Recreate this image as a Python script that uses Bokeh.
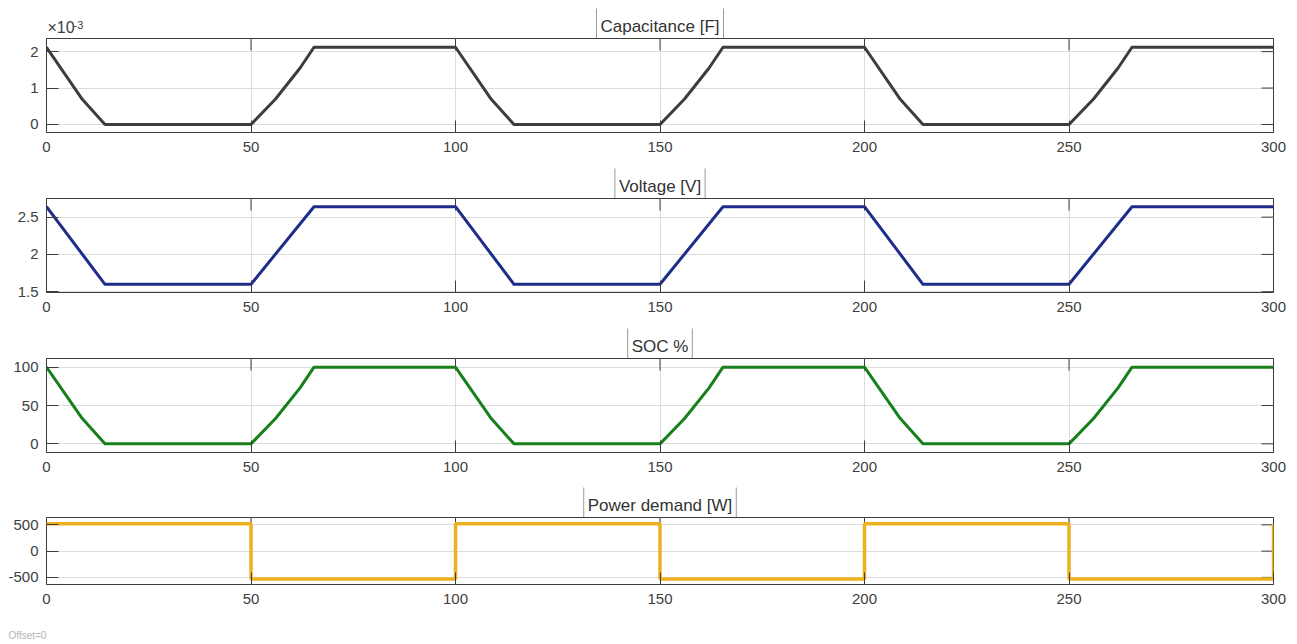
import math
from bokeh.plotting import figure
from bokeh.models import FixedTicker, Range1d, Spacer, NumeralTickFormatter
from bokeh.core.properties import value
from bokeh.layouts import column
from bokeh.embed import file_html
from bokeh.resources import INLINE

# ---------------- data ----------------
time_cap = [0, 8.75, 14.3, 50, 56, 62, 65.4, 100, 108.75, 114.3, 150, 156, 162, 165.4,
            200, 208.75, 214.3, 250, 256, 262, 265.4, 300]
capacitance_e3 = [2.12, 0.69, 0, 0, 0.7, 1.55, 2.12, 2.12, 0.69, 0, 0, 0.7, 1.55, 2.12,
                  2.12, 0.69, 0, 0, 0.7, 1.55, 2.12, 2.12]          # x 10^-3 F

time_volt = [0, 14.3, 50, 65.4, 100, 114.3, 150, 165.4, 200, 214.3, 250, 265.4, 300]
voltage = [2.64, 1.6, 1.6, 2.64, 2.64, 1.6, 1.6, 2.64, 2.64, 1.6, 1.6, 2.64, 2.64]

time_soc = [0, 8.75, 14.3, 50, 56, 62, 65.4, 100, 108.75, 114.3, 150, 156, 162, 165.4,
            200, 208.75, 214.3, 250, 256, 262, 265.4, 300]
soc = [100, 33, 0, 0, 33, 73, 100, 100, 33, 0, 0, 33, 73, 100,
       100, 33, 0, 0, 33, 73, 100, 100]

time_power = [0, 50, 100, 150, 200, 250, 300]
power = [520, -530, 520, -530, 520, -530, 520]

x_ticks = [0, 50, 100, 150, 200, 250, 300]
cap_ticks = [0, 1, 2]
volt_ticks = [1.5, 2, 2.5]
soc_ticks = [0, 50, 100]
power_ticks = [-500, 0, 500]

titles = ["Capacitance [F]", "Voltage [V]", "SOC %", "Power demand [W]"]
cap_multiplier = ["\u00d710", "-3"]
offset_note = "Offset=0"

FONT = "Liberation Sans"
TXT = "#404040"
TICK = "#3c3c3c"
TITLE_PAD = dict(left=4, right=4, top=14, bottom=3)


def style_axis(ax, ticks):
    ax.ticker = FixedTicker(ticks=ticks)
    ax.major_tick_in = 12
    ax.major_tick_out = 0
    ax.minor_tick_in = 0
    ax.minor_tick_out = 0
    ax.major_tick_line_color = TICK
    ax.major_tick_line_width = 1
    ax.axis_line_color = None
    ax.major_label_text_font = FONT
    ax.major_label_text_color = TXT
    ax.major_label_text_font_size = "15px"
    ax.formatter = NumeralTickFormatter(format="0.[0]")


def strip(height, x_end, left, right, align=True):
    """A bare, axis-less figure that only carries text outside the plot boxes."""
    s = figure(width=1297, height=height, x_range=Range1d(0, x_end), y_range=Range1d(0, height),
               x_axis_type=None, y_axis_type=None,
               output_backend="svg", toolbar_location=None,
               min_border_left=left, min_border_right=right, min_border_top=0,
               min_border_bottom=0, frame_align=align)
    s.grid.visible = False
    s.outline_line_color = None
    s.border_fill_color = None
    s.background_fill_color = None
    return s


def header(title):
    h = strip(30, 300, 46, 24)
    h.text(x=[150], y=[0], text=[title], text_align="center", text_baseline="bottom",
           text_font=value(FONT), text_font_size=value("17px"), text_color="#333333",
           background_fill_color="white", border_line_color="#9a9a9a", border_line_width=1,
           padding=TITLE_PAD)
    return h


def panel(height, bottom, yr, yticks):
    p = figure(width=1297, height=height, x_range=Range1d(0, 300), y_range=Range1d(*yr),
               output_backend="svg", toolbar_location=None,
               min_border_left=46, min_border_right=24, min_border_top=0,
               min_border_bottom=bottom)
    p.background_fill_color = "white"
    p.border_fill_color = None
    p.outline_line_color = TICK
    p.outline_line_width = 1
    p.outline_line_alpha = 1
    style_axis(p.xaxis[0], x_ticks)
    p.xaxis[0].major_label_standoff = 9
    style_axis(p.yaxis[0], yticks)
    p.yaxis[0].major_label_standoff = 8
    p.xgrid.ticker = FixedTicker(ticks=x_ticks)
    p.ygrid.ticker = FixedTicker(ticks=yticks)
    for g in (p.xgrid, p.ygrid):
        g.grid_line_color = "#dcdcdc"
        g.grid_line_width = 1
    # inward tick marks on the top and right edges (box on)
    p.ray(x=x_ticks, y=[yr[1]] * len(x_ticks), length=12, length_units="screen",
          angle=-math.pi / 2, line_color=TICK, line_width=1)
    p.ray(x=[300] * len(yticks), y=yticks, length=12, length_units="screen",
          angle=math.pi, line_color=TICK, line_width=1)
    return p


h1 = header(titles[0])
h1.text(x=[0], y=[3], text=[cap_multiplier[0]], text_align="left",
        text_baseline="bottom", x_offset=1, text_font=value(FONT),
        text_font_size=value("16px"), text_color=TXT)
h1.text(x=[0], y=[10], text=[cap_multiplier[1]], text_align="left",
        text_baseline="bottom", x_offset=27, text_font=value(FONT),
        text_font_size=value("11px"), text_color=TXT)

p1 = panel(130, 36, (-0.22, 2.36), cap_ticks)
p1.line(time_cap, capacitance_e3, line_color="#3d3d3d", line_width=3, line_join="round")

h2 = header(titles[1])
p2 = panel(130, 36, (1.49, 2.75), volt_ticks)
p2.line(time_volt, voltage, line_color="#1f2d8a", line_width=3, line_join="round")

h3 = header(titles[2])
p3 = panel(129, 35, (-11.3, 111.3), soc_ticks)
p3.line(time_soc, soc, line_color="#17801b", line_width=3, line_join="round")

h4 = header(titles[3])
p4 = panel(107, 40, (-635, 640), power_ticks)
p4.step(time_power, power, mode="after", line_color="#edb120", line_width=3.5)

foot = strip(20, 1297, 0, 0, align=False)
foot.text(x=[8], y=[9], text=[offset_note], text_align="left", text_baseline="middle",
          text_font=value(FONT), text_font_size=value("10px"), text_color="#b4b4b4")

layout = column(Spacer(width=1297, height=8), h1, p1, h2, p2, h3, p3, h4, p4, foot,
                spacing=0)

open("out.html", "w").write(file_html(layout, INLINE))
